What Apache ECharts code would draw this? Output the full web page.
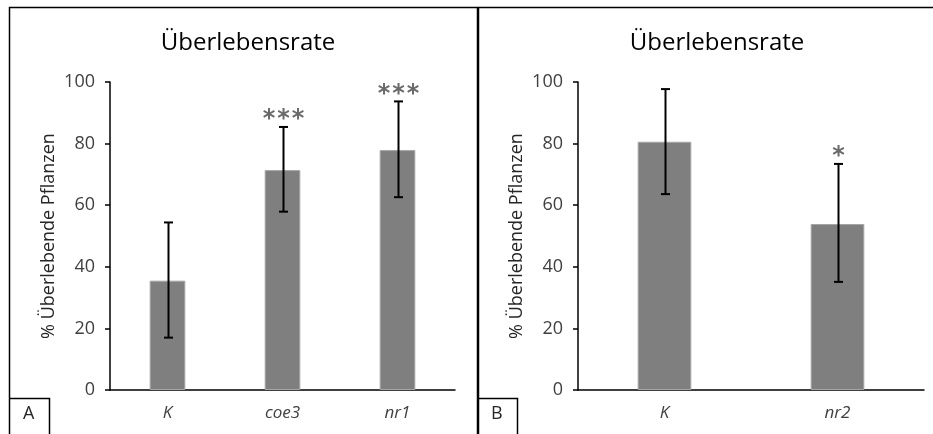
<!DOCTYPE html>
<html><head><meta charset="utf-8">
<script src="https://cdn.jsdelivr.net/npm/echarts@6/dist/echarts.min.js"></script>
<style>html,body{margin:0;padding:0;background:#fff}#c{width:933px;height:434px}</style>
</head><body><div id="c"></div>
<script>
const titleText = "Überlebensrate";
const yAxisName = "% Überlebende Pflanzen";
const yTicks = [0, 20, 40, 60, 80, 100];
const catsA = ["K", "coe3", "nr1"];
const meanA = [35.5, 71.4, 77.9];
const lowA = [17.0, 57.9, 62.6];
const highA = [54.4, 85.4, 93.7];
const starsA = [0, 3, 3];
const catsB = ["K", "nr2"];
const meanB = [80.6, 53.9];
const lowB = [63.6, 35.1];
const highB = [97.7, 73.4];
const starsB = [0, 1];
const panelLabels = ["A", "B"];

const FONT = "Open Sans";
const chart = echarts.init(document.getElementById('c'), null, {renderer: 'canvas'});

function errSeries(idx, lows, highs, stars) {
  return {
    type: 'custom', xAxisIndex: idx, yAxisIndex: idx, z: 10,
    data: lows.map((l, i) => [i, l, highs[i], stars[i]]),
    renderItem: function (params, api) {
      const lo = api.coord([api.value(0), api.value(1)]);
      const hi = api.coord([api.value(0), api.value(2)]);
      const x = Math.round(lo[0]) + 0.5;
      const cap = 4.5;
      const st = {stroke: '#000', lineWidth: 2};
      const children = [
        {type: 'line', shape: {x1: x, y1: lo[1], x2: x, y2: hi[1]}, style: st},
        {type: 'line', shape: {x1: x - cap, y1: lo[1], x2: x + cap, y2: lo[1]}, style: st},
        {type: 'line', shape: {x1: x - cap, y1: hi[1], x2: x + cap, y2: hi[1]}, style: st}
      ];
      const n = stars[params.dataIndex];
      const gap = 14.5;
      for (let k = 0; k < n; k++) {
        const sx = x + (k - (n - 1) / 2) * gap;
        children.push({type: 'text', style: {text: '*', x: sx, y: hi[1] + 5, align: 'center', verticalAlign: 'bottom',
          font: 'bold 24px "DejaVu Sans"', fill: '#6a6a6a'}});
      }
      return {type: 'group', children: children};
    }
  };
}

function xAxis(idx, cats) {
  return {
    type: 'category', gridIndex: idx, data: cats,
    axisLine: {lineStyle: {color: '#000', width: 1.5}},
    axisTick: {show: false},
    axisLabel: {fontFamily: FONT, fontSize: 17, fontStyle: 'italic', color: '#404040', margin: 15}
  };
}
function yAxis(idx) {
  return {
    type: 'value', gridIndex: idx, min: yTicks[0], max: yTicks[yTicks.length - 1], interval: 20,
    splitLine: {show: false},
    axisLine: {show: true, lineStyle: {color: '#000', width: 1.5}},
    axisTick: {show: true, length: 5, lineStyle: {color: '#000', width: 1.5}},
    axisLabel: {fontFamily: FONT, fontSize: 18, color: '#404040', margin: 15},
    name: yAxisName, nameLocation: 'middle', nameGap: 52, nameRotate: 90,
    nameTextStyle: {fontFamily: FONT, fontSize: 18, color: '#262626'}
  };
}
function barSeries(idx, vals) {
  return {
    type: 'bar', xAxisIndex: idx, yAxisIndex: idx, data: vals, barWidth: '31%',
    itemStyle: {color: '#7f7f7f', borderColor: '#a6a6a6', borderWidth: 1}, animation: false
  };
}

const option = {
  animation: false,
  title: [
    {text: titleText, left: 243, top: 26, textAlign: 'center', textStyle: {fontFamily: FONT, fontSize: 24, fontWeight: 'normal', color: '#000'}},
    {text: titleText, left: 712, top: 26, textAlign: 'center', textStyle: {fontFamily: FONT, fontSize: 24, fontWeight: 'normal', color: '#000'}}
  ],
  grid: [
    {left: 110, top: 82, width: 345, height: 308},
    {left: 578, top: 82, width: 346, height: 308}
  ],
  xAxis: [xAxis(0, catsA), xAxis(1, catsB)],
  yAxis: [yAxis(0), yAxis(1)],
  series: [barSeries(0, meanA), errSeries(0, lowA, highA, starsA), barSeries(1, meanB), errSeries(1, lowB, highB, starsB)],
  graphic: [
    {type: 'polyline', shape: {points: [[9.5, 440], [9.5, 7.5], [477.5, 7.5], [477.5, 440]]}, style: {stroke: '#000', lineWidth: 1.5, fill: null}},
    {type: 'polyline', shape: {points: [[478.5, 440], [478.5, 7.5], [940, 7.5]]}, style: {stroke: '#000', lineWidth: 1.5, fill: null}},
    {type: 'polyline', shape: {points: [[9.5, 398.5], [49.5, 398.5], [49.5, 440]]}, style: {stroke: '#000', lineWidth: 1.5, fill: null}},
    {type: 'polyline', shape: {points: [[478.5, 398.5], [517.5, 398.5], [517.5, 440]]}, style: {stroke: '#000', lineWidth: 1.5, fill: null}},
    {type: 'text', left: 23, top: 405, style: {text: panelLabels[0], font: '18px "Open Sans"', fill: '#262626'}},
    {type: 'text', left: 491, top: 405, style: {text: panelLabels[1], font: '18px "Open Sans"', fill: '#262626'}}
  ]
};
chart.setOption(option);
</script>
</body></html>
